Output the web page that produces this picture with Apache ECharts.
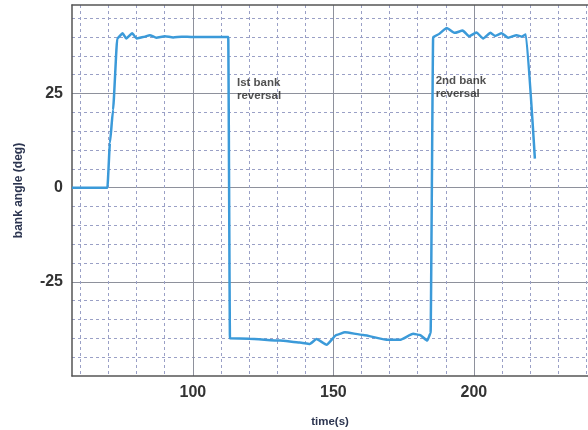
<!DOCTYPE html>
<html>
<head>
<meta charset="utf-8">
<script src="https://cdn.jsdelivr.net/npm/echarts@6/dist/echarts.min.js"></script>
<style>html,body{margin:0;padding:0;background:#fff;}#c{width:588px;height:430px;}</style>
</head>
<body>
<div id="c"></div>
<script>
// ---- data ----
var timeS = [57, 69.6, 70.5, 71.6, 73.1, 75, 76.3, 78.4, 80, 82.3, 84.7, 87, 90, 93, 96, 100, 104, 108, 112.6, 113.2, 120, 131, 138, 141.6, 144, 147.6, 151.1, 154.1, 160.6, 168.9, 173.7, 178.4, 180.8, 183.4, 184.6, 185.5, 187.3, 190.3, 193.2, 196, 198.3, 200.9, 203.3, 205.9, 207.5, 209.9, 212.2, 215.2, 217, 218.5, 221.7];
var bankAngle = [0, 0, 11.9, 20.6, 39.6, 41, 39.6, 41, 39.6, 40, 40.5, 39.8, 40.2, 39.9, 40.1, 40, 40, 40, 40, -40, -40.1, -40.6, -41.1, -41.5, -40.2, -41.7, -39.1, -38.4, -39.1, -40.4, -40.4, -38.8, -39.1, -40.6, -38.6, 40, 40.7, 42.4, 41.1, 41.7, 40.2, 41.2, 39.6, 41.1, 40.3, 41, 39.8, 40.5, 40.1, 40.7, 7.7];
var xMajorTicks = [100, 150, 200];
var xMinorTicks = [60, 70, 80, 90, 110, 120, 130, 140, 160, 170, 180, 190, 210, 220, 230, 240];
var yMajorTicks = [-25, 0, 25];
var yMinorTicks = [-45, -40, -35, -30, -20, -15, -10, -5, 5, 10, 15, 20, 30, 35, 40, 45];
var noteTimes = [115.7, 186.4];
var noteAngles = [29.6, 30.0];
var noteTexts = ['Ist bank\nreversal', '2nd bank\nreversal'];

var pts = timeS.map(function (t, i) { return [t, bankAngle[i]]; });
var notes = noteTimes.map(function (t, i) { return [t, noteAngles[i], noteTexts[i]]; });

var chart = echarts.init(document.getElementById('c'));
var font = '"Liberation Sans", Arial, sans-serif';
chart.setOption({
  backgroundColor: '#ffffff',
  animation: false,
  grid: { left: 72, right: 0, top: 5, bottom: 54, containLabel: false, outerBoundsMode: 'none' },
  xAxis: [
    {
      type: 'value', min: 57, max: 240.6, position: 'bottom',
      name: 'time(s)', nameLocation: 'middle', nameGap: 40,
      nameTextStyle: { fontFamily: font, fontWeight: 'bold', fontSize: 11.5, color: '#2c3550' },
      axisLine: { show: true, onZero: false, lineStyle: { color: '#555', width: 1.5 } },
      axisTick: { show: false, customValues: xMajorTicks },
      axisLabel: { customValues: xMajorTicks, margin: 9, fontFamily: font, fontWeight: 'bold', fontSize: 16, color: '#333' },
      splitLine: { show: true, lineStyle: { color: '#8e919c', width: 1 } }
    },
    {
      type: 'value', min: 57, max: 240.6, position: 'top',
      axisLine: { show: true, onZero: false, lineStyle: { color: '#555', width: 1.5 } },
      axisTick: { show: false, customValues: xMinorTicks },
      axisLabel: { show: false },
      splitLine: { show: true, lineStyle: { color: '#9aa0c6', width: 1, type: [3, 3] } }
    }
  ],
  yAxis: [
    {
      type: 'value', min: -50, max: 48.5, position: 'left',
      name: 'bank angle (deg)', nameLocation: 'middle', nameGap: 47, nameRotate: 90,
      nameTextStyle: { fontFamily: font, fontWeight: 'bold', fontSize: 12, color: '#2c3550' },
      axisLine: { show: true, onZero: false, lineStyle: { color: '#555', width: 1.5 } },
      axisTick: { show: false, customValues: yMajorTicks },
      axisLabel: { customValues: yMajorTicks, margin: 9, fontFamily: font, fontWeight: 'bold', fontSize: 16, color: '#333' },
      splitLine: { show: true, lineStyle: { color: '#8e919c', width: 1 } }
    },
    {
      type: 'value', min: -50, max: 48.5, position: 'left',
      axisLine: { show: false },
      axisTick: { show: false, customValues: yMinorTicks },
      axisLabel: { show: false },
      splitLine: { show: true, lineStyle: { color: '#9aa0c6', width: 1, type: [3, 3] } }
    }
  ],
  series: [
    {
      type: 'line', xAxisIndex: 0, yAxisIndex: 0, data: pts,
      showSymbol: false, smooth: 0.15, smoothMonotone: 'x',
      lineStyle: { color: '#3b9ad9', width: 2.5 }, z: 5
    },
    {
      type: 'scatter', xAxisIndex: 0, yAxisIndex: 0, data: notes,
      symbolSize: 0, silent: true,
      label: {
        show: true, position: [0, 0], align: 'left', verticalAlign: 'top',
        formatter: function (p) { return p.data[2]; },
        fontFamily: font, fontWeight: 'bold', fontSize: 11.5, lineHeight: 13, color: '#262626'
      }
    }
  ]
});
</script>
</body>
</html>
